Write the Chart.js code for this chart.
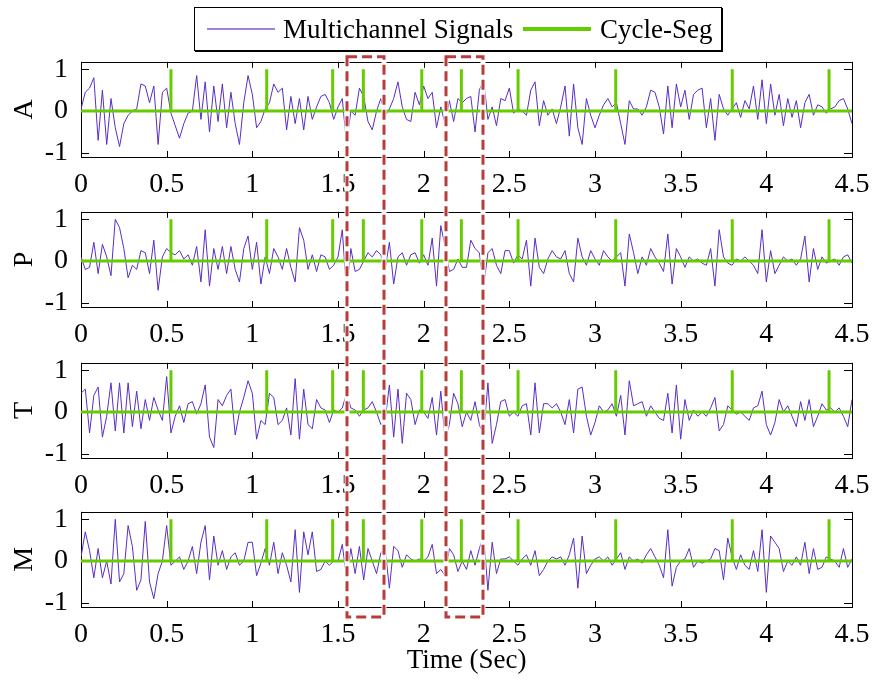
<!DOCTYPE html>
<html>
<head>
<meta charset="utf-8">
<title>Multichannel Signals</title>
<script src="https://cdn.jsdelivr.net/npm/chart.js@4.4.0/dist/chart.umd.min.js"></script>
<style>
    html, body { margin: 0; padding: 0; background: #fff; }
    #fig { position: relative; width: 876px; height: 681px; overflow: hidden; font-family: 'Liberation Serif', 'Times New Roman', serif; }
    #fig canvas { position: absolute; left: 0; }
    #overlay { z-index: 2; pointer-events: none; top: 0; }
    #legend { position: absolute; left: 194px; top: 7px; width: 528px; height: 44px; box-sizing: border-box; border: 1px solid #000; box-shadow: 1px 1px 0 #000; background: #fff; z-index: 3; font-size: 27px; color: #000; }
    #legend .swatch { position: absolute; top: 20px; width: 68px; }
    #legend .label { position: absolute; top: 3px; line-height: 36px; white-space: nowrap; }
</style>
</head>
<body>
<div id="fig">
    <canvas id="c0" width="876" height="168" style="top:40px"></canvas>
    <canvas id="c1" width="876" height="168" style="top:190px"></canvas>
    <canvas id="c2" width="876" height="168" style="top:341px"></canvas>
    <canvas id="c3" width="876" height="191" style="top:490px"></canvas>
    <canvas id="overlay" width="876" height="681"></canvas>
    <div id="legend">
        <div class="swatch" style="left:12px; height:2px; background:#9d82d8;"></div>
        <div class="label" style="left:88px;">Multichannel Signals</div>
        <div class="swatch" style="left:328px; top:19px; height:4px; background:#66cc00;"></div>
        <div class="label" style="left:405px;">Cycle-Seg</div>
    </div>
</div>
<script>
// sampling step of the channel traces (s)
const dt = 0.025;
const tEnd = 4.5;

const channelNames = ['A', 'P', 'T', 'M'];

const sigA = [
    0.05, 0.45, 0.55, 0.8, -0.7, 0.5, -0.8, 0.3, -0.4, -0.85,
    -0.3, -0.1, 0.0, 0.05, 0.65, 0.6, 0.2, 0.6, -0.8, 0.45,
    0.55, -0.05, -0.35, -0.65, -0.3, -0.05, 0.0, 0.85, -0.2, 0.7,
    -0.5, 0.6, -0.25, 0.65, -0.4, 0.45, -0.3, -0.8, 0.2, 0.85,
    0.4, -0.4, -0.25, 0.05, 0.2, 0.65, 0.45, 0.55, -0.45, 0.35,
    -0.3, 0.3, -0.45, 0.35, -0.2, 0.1, 0.35, 0.4, 0.2, -0.2,
    0.1, 0.3, -0.8, 0.0, -0.1, 0.55, 0.35, -0.25, -0.45, 0.0,
    0.3, -0.1, 0.05, 0.3, 0.7, 0.1, -0.2, -0.25, 0.45, 0.15,
    0.6, 0.3, 0.45, -0.4, 0.1, -0.3, 0.25, -0.25, 0.3, 0.2,
    0.3, 0.35, -0.5, 0.5, 0.75, -0.2, 0.1, -0.35, 0.3, 0.25,
    0.55, -0.05, 0.05, 0.0, -0.1, 0.5, 0.7, -0.35, 0.25, -0.1,
    0.05, -0.3, 0.1, 0.6, -0.6, 0.65, -0.4, -0.8, 0.3, -0.1,
    -0.4, -0.1, 0.15, 0.3, 0.1, 0.2, -0.3, -0.8, 0.25, 0.05,
    0.05, -0.1, 0.1, 0.5, 0.45, 0.1, -0.55, 0.6, -0.4, 0.65,
    0.1, 0.5, -0.2, 0.4, 0.5, 0.55, -0.4, 0.3, -0.7, 0.4,
    0.05, -0.1, 0.05, 0.2, -0.15, 0.25, 0.05, 0.6, -0.2, 0.75,
    -0.3, 0.65, -0.1, 0.4, -0.35, 0.3, -0.15, 0.25, -0.4, 0.2,
    0.4, -0.1, 0.15, 0.1, -0.05, 0.05, 0.1, 0.25, 0.3, 0.05, -0.3
];

const sigP = [
    0.1, -0.2, -0.15, 0.45, -0.3, 0.4, 0.1, -0.35, 1.0, 0.8,
    0.3, -0.4, -0.1, -0.2, 0.25, 0.2, -0.3, 0.5, -0.7, 0.1,
    0.3, 0.2, 0.15, 0.25, 0.05, 0.15, -0.1, 0.35, -0.5, 0.75,
    -0.6, 0.3, -0.2, 0.35, -0.3, 0.35, -0.2, -0.5, 0.3, 0.6,
    -0.2, 0.45, -0.55, 0.1, -0.3, 0.3, 0.1, -0.2, 0.3, -0.15,
    -0.5, 0.8, 0.5, -0.2, 0.15, -0.25, 0.15, 0.1, -0.2, -0.1,
    0.1, 0.75, -0.75, 0.3, -0.25, -0.2, 0.0, 0.2, 0.1, 0.25,
    0.15, -0.2, 0.45, -0.55, 0.1, 0.2, -0.1, 0.15, 0.2, -0.05,
    0.15, -0.1, 0.55, -0.6, 0.85, 0.35, -0.25, -0.2, 0.05, -0.15,
    -0.15, 0.5, 0.3, 0.2, -0.6, 0.2, 0.3, -0.1, -0.3, 0.25,
    0.25, -0.05, 0.15, 0.05, 0.5, -0.6, 0.55, -0.15, -0.3, 0.05,
    0.25, 0.1, 0.05, 0.25, -0.3, -0.5, 0.55, 0.1, -0.1, 0.25,
    0.05, -0.1, 0.25, 0.1, 0.0, 0.1, 0.2, -0.6, 0.65, 0.2,
    -0.3, 0.1, -0.1, 0.3, 0.1, -0.05, -0.25, 0.65, -0.55, 0.3,
    0.1, -0.15, 0.1, 0.0, 0.05, -0.05, -0.1, 0.3, -0.6, 0.75,
    0.1, -0.05, -0.1, 0.05, 0.0, 0.1, 0.0, -0.1, -0.3, 0.75,
    -0.5, 0.25, -0.3, -0.1, 0.1, 0.0, 0.05, -0.1, 0.05, 0.6,
    -0.5, 0.3, -0.2, 0.1, -0.05, 0.0, 0.05, -0.1, 0.1, 0.15, -0.05
];

const sigT = [
    0.45, 0.55, -0.5, 0.4, 0.6, -0.6, -0.1, 0.7, -0.45, 0.7,
    -0.5, 0.7, -0.35, 0.5, -0.4, 0.3, -0.2, 0.35, 0.05, -0.2,
    0.85, -0.5, -0.1, 0.15, -0.25, 0.2, 0.25, -0.05, 0.2, 0.65,
    -0.6, -0.85, 0.3, 0.15, 0.4, 0.55, -0.55, 0.0, 0.35, 0.75,
    0.45, -0.65, -0.2, -0.3, 0.45, 0.35, -0.3, -0.2, 0.1, -0.55,
    0.8, -0.65, 0.55, -0.3, -0.4, 0.3, 0.1, 0.05, -0.25, 0.05,
    0.0, 0.1, 0.45, 0.1, 0.05, -0.1, 0.05, 0.1, 0.25, 0.0,
    -0.3, -0.2, 0.65, -0.6, 0.55, -0.75, 0.45, 0.3, -0.3, 0.05,
    0.0, -0.15, 0.35, -0.55, 0.5, -0.65, -0.3, 0.45, 0.2, -0.35,
    0.0, -0.2, 0.25, -0.3, -0.55, 0.7, -0.75, -0.3, 0.25, 0.3,
    -0.1, 0.0, -0.1, 0.15, 0.2, -0.55, 0.7, -0.5, 0.2, 0.2,
    0.1, 0.2, 0.0, -0.3, 0.3, -0.5, 0.55, 0.6, -0.1, -0.55,
    -0.25, 0.15, 0.0, 0.05, 0.2, -0.1, 0.4, -0.55, 0.75, 0.15,
    0.2, 0.25, -0.1, 0.15, 0.0, -0.15, -0.2, 0.45, -0.5, 0.65,
    -0.65, 0.3, -0.2, 0.05, -0.1, 0.0, -0.1, 0.1, 0.35, -0.45,
    -0.3, 0.15, 0.05, -0.05, 0.0, -0.1, -0.2, 0.1, 0.15, 0.5,
    -0.3, -0.55, -0.25, 0.3, 0.0, 0.15, -0.1, -0.35, 0.25, -0.2,
    0.3, -0.35, -0.1, 0.2, 0.05, 0.1, 0.0, 0.1, -0.1, -0.35, 0.3
];

const sigM = [
    0.1, 0.7, 0.25, -0.4, 0.3, -0.4, 0.0, -0.55, 1.0, -0.5,
    -0.3, 0.85, 0.35, -0.7, -0.45, 0.95, -0.5, -0.9, -0.3, 0.0,
    0.85, -0.1, 0.0, 0.1, -0.2, 0.0, 0.35, -0.3, 0.45, 0.85,
    -0.45, 0.6, -0.1, 0.25, -0.2, 0.1, 0.2, -0.1, 0.0, 0.45,
    0.45, -0.35, -0.05, 0.3, -0.1, 0.45, -0.3, 0.2, -0.1, -0.5,
    0.75, -0.75, 0.7, 0.15, 0.7, -0.25, -0.2, 0.0, -0.1, 0.0,
    0.0, 0.4, -0.4, 0.3, -0.3, 0.35, -0.45, 0.3, 0.0, -0.3,
    0.2, 0.3, -0.65, 0.35, 0.25, -0.15, 0.15, 0.05, 0.0, 0.05,
    0.0, 0.1, 0.4, -0.3, -0.2, -0.35, 0.3, 0.15, -0.25, 0.0,
    -0.2, 0.25, -0.1, 0.3, 0.6, -0.7, 0.45, -0.3, 0.05, 0.05,
    0.1, 0.0, -0.1, 0.05, 0.15, -0.1, 0.25, -0.35, -0.2, 0.0,
    0.1, 0.05, 0.1, -0.1, 0.15, 0.55, -0.65, 0.6, -0.3, -0.1,
    0.05, 0.1, 0.0, 0.1, -0.1, 0.05, 0.2, -0.2, 0.1, 0.0,
    0.05, -0.05, 0.15, 0.3, 0.1, -0.1, -0.4, 0.75, -0.6, -0.15,
    0.0, 0.05, 0.3, -0.15, 0.0, -0.05, 0.0, 0.05, 0.3, 0.25,
    -0.45, 0.55, 0.1, -0.2, 0.15, -0.1, -0.2, 0.25, -0.25, 0.75,
    -0.75, 0.6, 0.45, 0.3, -0.25, 0.0, -0.1, 0.1, -0.1, 0.45,
    -0.3, 0.3, -0.2, -0.15, 0.1, 0.05, 0.0, -0.15, 0.3, -0.15, 0.05
];

const channels = [sigA, sigP, sigT, sigM];

// cycle segmentation instants (s), drawn as unit pulses on the zero line
const segTimes = [0.525, 1.084, 1.469, 1.648, 1.989, 2.22, 2.551, 3.121, 3.801, 4.366];
const segLevel = 1;

// highlighted windows (s)
const windows = [[1.553, 1.769], [2.131, 2.347]];

const xTicks = [0, 0.5, 1, 1.5, 2, 2.5, 3, 3.5, 4, 4.5];
const xTickLabels = ['0', '0.5', '1', '1.5', '2', '2.5', '3', '3.5', '4', '4.5'];
const yTicks = [-1, 0, 1];
const yTickLabels = ['-1', '0', '1'];

const purple = '#5a2dc6';
const green = '#66cc00';
const red = '#b93c3c';

// plot box height inside each canvas, and the space kept above it
const boxTop = 17;
const boxHeight = 100;

Chart.defaults.font.family = "'Liberation Serif', 'Times New Roman', serif";
Chart.defaults.color = '#000';

// box around the plot area with short inward ticks, MATLAB style
const frameTicks = {
    id: 'frameTicks',
    beforeDatasetsDraw(chart) {
        const { ctx, chartArea: a, scales: { x, y } } = chart;
        ctx.save();
        ctx.strokeStyle = '#000';
        ctx.lineWidth = 1;
        ctx.beginPath();
        xTicks.forEach(v => {
            const px = Math.round(x.getPixelForValue(v)) + 0.5;
            ctx.moveTo(px, a.top); ctx.lineTo(px, a.top + 6);
            ctx.moveTo(px, a.bottom); ctx.lineTo(px, a.bottom - 6);
        });
        yTicks.forEach(v => {
            const py = Math.round(y.getPixelForValue(v)) + 0.5;
            ctx.moveTo(a.left, py); ctx.lineTo(a.left + 8, py);
            ctx.moveTo(a.right, py); ctx.lineTo(a.right - 8, py);
        });
        ctx.stroke();
        ctx.strokeRect(Math.round(a.left) + 0.5, Math.round(a.top) + 0.5, Math.round(a.width), Math.round(a.height));
        ctx.restore();
    }
};

function segmentLine() {
    const pts = [{ x: 0, y: 0 }];
    segTimes.forEach(s => {
        pts.push({ x: s, y: 0 }, { x: s, y: segLevel }, { x: s, y: 0 });
    });
    pts.push({ x: tEnd, y: 0 });
    return pts;
}

function makePanel(idx) {
    const canvas = document.getElementById('c' + idx);
    const isLast = idx === channels.length - 1;
    const trace = channels[idx].map((v, i) => ({ x: i * dt, y: v }));

    return new Chart(canvas, {
        type: 'line',
        data: {
            datasets: [
                { label: 'Multichannel Signals', data: trace, borderColor: purple, borderWidth: 1, pointRadius: 0, tension: 0, order: 1 },
                { label: 'Cycle-Seg', data: segmentLine(), borderColor: green, borderWidth: 3, pointRadius: 0, tension: 0, order: 0 }
            ]
        },
        options: {
            responsive: false,
            animation: false,
            devicePixelRatio: 1,
            layout: { padding: { top: boxTop, right: 24, left: 0, bottom: 0 } },
            plugins: { legend: { display: false }, tooltip: { enabled: false } },
            scales: {
                x: {
                    type: 'linear',
                    min: 0,
                    max: tEnd,
                    afterBuildTicks: s => { s.ticks = xTicks.map(v => ({ value: v })); },
                    afterFit: s => { s.height = canvas.height - boxTop - boxHeight; },
                    grid: { display: false },
                    border: { display: false },
                    ticks: {
                        autoSkip: false,
                        maxRotation: 0,
                        padding: 3,
                        font: { size: 28 },
                        callback: (v, i) => xTickLabels[i]
                    },
                    title: { display: isLast, text: 'Time (Sec)', font: { size: 27 }, padding: { top: 0, bottom: 4 } }
                },
                y: {
                    min: -1.1,
                    max: 1.18,
                    afterBuildTicks: s => { s.ticks = yTicks.map(v => ({ value: v })); },
                    afterFit: s => { s.width = 81; },
                    grid: { display: false },
                    border: { display: false },
                    ticks: {
                        padding: 5,
                        font: { size: 28 },
                        callback: (v, i) => yTickLabels[i]
                    },
                    title: { display: true, text: channelNames[idx], font: { size: 28 }, padding: { top: 8, bottom: 0 } }
                }
            }
        },
        plugins: [frameTicks]
    });
}

const charts = channels.map((_, i) => makePanel(i));

// dashed boxes marking the windows across all four panels
function drawWindows() {
    const ov = document.getElementById('overlay');
    const ctx = ov.getContext('2d');
    const first = charts[0], last = charts[charts.length - 1];
    const top = first.canvas.offsetTop + first.chartArea.top - 5;
    const bottom = last.canvas.offsetTop + last.chartArea.bottom + 10;
    const xs = first.scales.x;

    windows.forEach(([t0, t1]) => {
        const x0 = Math.round(xs.getPixelForValue(t0));
        const x1 = Math.round(xs.getPixelForValue(t1));
        ctx.save();
        ctx.strokeStyle = '#fff';
        ctx.lineWidth = 5;
        ctx.strokeRect(x0, top, x1 - x0, bottom - top);
        ctx.strokeStyle = red;
        ctx.lineWidth = 3;
        ctx.setLineDash([10, 5]);
        ctx.strokeRect(x0, top, x1 - x0, bottom - top);
        ctx.restore();
    });
}

drawWindows();
</script>
</body>
</html>
